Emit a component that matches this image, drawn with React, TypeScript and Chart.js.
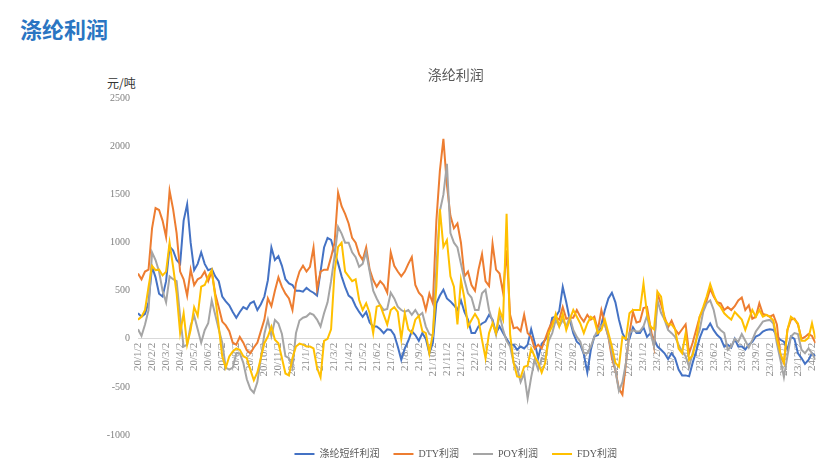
import React, { useEffect, useRef } from 'react';
import { Chart, registerables } from 'chart.js';

Chart.register(...registerables);

// x-axis tick labels (one per month)
const monthLabels = [
  '20/1/2', '20/2/2', '20/3/2', '20/4/2', '20/5/2', '20/6/2', '20/7/2', '20/8/2', '20/9/2', '20/10/2', '20/11/2', '20/12/2',
  '21/1/2', '21/2/2', '21/3/2', '21/4/2', '21/5/2', '21/6/2', '21/7/2', '21/8/2', '21/9/2', '21/10/2', '21/11/2', '21/12/2',
  '22/1/2', '22/2/2', '22/3/2', '22/4/2', '22/5/2', '22/6/2', '22/7/2', '22/8/2', '22/9/2', '22/10/2', '22/11/2', '22/12/2',
  '23/1/2', '23/2/2', '23/3/2', '23/4/2', '23/5/2', '23/6/2', '23/7/2', '23/8/2', '23/9/2', '23/10/2', '23/11/2', '23/12/2',
  '24/1/2',
];

// samples are read every quarter month, starting 20/1/2
const sampleStepMonths = 0.25;

const seriesNames = ['涤纶短纤利润', 'DTY利润', 'POY利润', 'FDY利润'];
const seriesColors = ['#4472C4', '#ED7D31', '#A5A5A5', '#FFC000'];

// 涤纶短纤利润 (元/吨)
const psfProfit = [
  266, 230, 260, 380, 750, 640, 470, 440, 600, 960,
  920, 820, 780, 1230, 1400, 1000, 715, 780, 900, 780,
  715, 730, 650, 600, 440, 390, 350, 280, 220, 280,
  330, 310, 370, 390, 300, 360, 440, 610, 950, 820,
  860, 760, 620, 577, 560, 500, 500, 490, 530, 500,
  480, 450, 700, 950, 1050, 1030, 900, 785, 650, 540,
  450, 420, 340, 280, 230, 280, 170, 128, 128, 100,
  59, 100, 93, 40, -80, -218, -100, -20, 80, 40,
  -20, 60, 0, -150, -40, 370, 450, 510, 420, 390,
  350, 300, 400, 280, 200, 60, 60, 130, 160, 180,
  250, 200, 59, 130, 60, 0, -60, -60, -114, -80,
  -100, -60, 100, -40, -200, -50, -10, 50, 220, 230,
  290, 540, 380, 200, 60, -30, -60, -160, -350, -114,
  24, 40, 150, 300, 420, 480, 380, 200, 60, -10,
  0, 120, 60, 60, 120, 20, 60, 0, -80, -114,
  -150, -210, -150, -200, -320, -380, -380, -390, -250, -130,
  7, 100, 100, 160, 90, 40, 5, -80, -60, -90,
  0, -80, -80, -110, -60, -30, 24, 40, 76, 93,
  100, 93, 30, -10, -30, -110, 24, 0, -150, -200,
  -260, -220, -150, -180,
];

// DTY利润
const dtyProfit = [
  680, 620, 700, 720, 1150, 1360, 1340, 1230, 1060, 1540,
  1350, 1100, 700, 620, 450, 720, 560, 620, 640, 700,
  600, 700, 470, 330, 180, 140, 80, -40, -60, 20,
  -40, -120, -150, -90, -40, 80, 200, 420, 340, 500,
  640, 540, 470, 420, 300, 580, 700, 760, 700, 750,
  950, 520, 700, 720, 720, 850, 1000, 1520, 1380, 1300,
  1200, 1050, 1000, 880, 820, 950, 720, 612, 543, 600,
  560, 480, 900, 760, 700, 650, 700, 780, 850, 560,
  480, 440, 300, 470, 370, 1230, 1750, 2080, 1600, 1280,
  1150, 1200, 1000, 650, 700, 560, 500, 720, 880, 600,
  550, 990, 720, 680, 480, 920, 250, 110, 120, 80,
  250, 60, 20, -100, -60, -100, 0, 100, 180, 220,
  200, 330, 210, 220, 220, 300, 230, 180, 250, 200,
  230, 93, 300, 150, 20, -200, -330, -520, -580, -250,
  60, 280, 170, 180, 320, 330, 120, -80, 470, 360,
  230, 120, 190, 100, 50, 100, 150, -150, -40, 93,
  230, 300, 400, 520, 440, 380, 370, 300, 330, 300,
  340, 400, 430, 300, 350, 210, 230, 370, 260, 250,
  230, 250, 150, -180, -250, 93, 200, 210, 150, 0,
  20, 50, 30, -45,
];

// POY利润
const poyProfit = [
  100, 30, 150, 300, 900, 820, 700, 500, 380, 650,
  620, 600, 232, -80, -60, 140, 240, 100, -40, 90,
  162, 400, 250, 100, -40, -300, -320, -300, -150, -150,
  -250, -420, -520, -560, -450, -200, 50, 200, 30, 197,
  160, 50, -180, -200, -300, 60, 190, 220, 232, 266,
  250, 200, 128, 266, 380, 600, 860, 1165, 1095, 1000,
  1000, 900, 850, 750, 780, 900, 700, 500, 420, 350,
  300, 310, 480, 420, 335, 300, 280, 300, 250, 300,
  240, 270, 128, 50, 30, 750, 1330, 1500, 1820, 1100,
  1000, 950, 780, 612, 474, 430, 300, 300, 474, 510,
  300, 180, 40, 250, 93, -20, -80, -250, -300, -450,
  -360, -620, -400, -218, -320, -200, -218, -20, 60, 197,
  130, 197, 130, 230, 93, 20, -30, -150, -150, -80,
  24, 93, 140, 150, 24, -150, -330, -540, -450, -250,
  60, 90, 76, 80, 130, 240, 60, -80, 400, 270,
  200, 93, 59, 20, -60, -130, -180, -290, -150, -10,
  93, 280, 370, 400, 300, 130, 90, 60, -114, -80,
  0, -30, 50, -20, -90, -10, 76, 128, 180, 190,
  197, 160, -50, -218, -400, -180, 24, 60, 50, -114,
  -150, -100, -150, -218,
];

// FDY利润
const fdyProfit = [
  200, 230, 300, 540, 760, 715, 720, 660, 700, 1000,
  750, 474, 59, 266, -60, 93, 330, 240, 543, 560,
  646, 715, 440, 130, -183, -300, -183, -130, -100, -114,
  -180, -200, -320, -430, -350, -200, -45, 24, 128, -10,
  -45, -200, -360, -380, -200, -80, -50, -60, -80, -80,
  -100, -300, -400, -20, 0, 100, 700, 957, 1000, 700,
  650, 600, 620, 404, 300, 370, 266, 59, 335, 350,
  250, 150, 300, 330, 280, 0, 266, 100, 60, 200,
  240, 80, 60, -150, 59, 543, 1350, 957, 1027, 650,
  543, 150, 612, 420, 128, 197, 260, 200, -10, -200,
  60, 162, 60, 300, 200, 1300, 50, -250, -390, -400,
  -290, -280, -100, -183, -250, -350, -250, 60, 130, 260,
  130, 260, 93, 200, 300, 230, 160, 60, 160, 230,
  200, 60, 93, 200, 60, -80, -250, -290, 20, 0,
  266, 300, 300, 300, 577, 260, 128, 100, 490, 440,
  200, 150, 150, 100, -100, -150, 59, -218, -170, -20,
  230, 330, 440, 570, 460, 370, 330, 266, 230, 200,
  280, 240, 200, 93, 200, 300, 230, 300, 230, 250,
  230, 190, 0, -150, -250, 93, 230, 200, 160, -20,
  -20, 10, 162, 0,
];

const yTickMin = -1000;
const yTickMax = 2500;
const yTickStep = 500;

const SERIF = '"Liberation Serif", "Noto Sans CJK SC", serif';
const CJK = '"Noto Sans CJK SC", sans-serif';

export default function App() {
  const canvasRef = useRef<HTMLCanvasElement | null>(null);

  useEffect(() => {
    const canvas = canvasRef.current;
    if (!canvas) return;
    const allSeries = [psfProfit, dtyProfit, poyProfit, fdyProfit];
    const toPoints = (arr: number[]) => arr.map((v, i) => ({ x: i * sampleStepMonths, y: v }));
    const lastX = (psfProfit.length - 1) * sampleStepMonths;

    const chart = new Chart(canvas, {
      type: 'line',
      data: {
        datasets: allSeries.map((arr, i) => ({
          label: seriesNames[i],
          data: toPoints(arr),
          borderColor: seriesColors[i],
          backgroundColor: seriesColors[i],
          borderWidth: 2,
          pointRadius: 0,
          tension: 0,
          order: allSeries.length - 1 - i,
        })),
      },
      options: {
        responsive: false,
        animation: false,
        events: [],
        layout: { padding: { left: 0, right: 17.5, top: 0, bottom: 0 } },
        plugins: {
          title: {
            display: true,
            text: '涤纶利润',
            color: '#595959',
            font: { family: CJK, size: 14, weight: 'normal' },
            padding: { top: 66, bottom: 15.7 },
          },
          legend: {
            position: 'bottom',
            maxHeight: 26,
            labels: {
              boxWidth: 20,
              boxHeight: 2,
              padding: 14,
              color: '#595959',
              font: { family: SERIF, size: 10 },
              sort: (a: any, b: any) => a.datasetIndex - b.datasetIndex,
              generateLabels: (c: any) =>
                (Chart.defaults.plugins.legend.labels.generateLabels as any)(c).map((l: any) => ({
                  ...l,
                  lineWidth: 0,
                  fillStyle: l.strokeStyle,
                })),
            },
          },
          tooltip: { enabled: false },
        },
        scales: {
          x: {
            type: 'linear',
            min: 0,
            max: lastX,
            position: { y: 0 } as any,
            grid: { display: false, drawTicks: false },
            border: { display: false },
            ticks: {
              stepSize: 1,
              autoSkip: false,
              includeBounds: false,
              minRotation: 90,
              maxRotation: 90,
              padding: 4,
              color: '#8c8c8c',
              font: { family: SERIF, size: 11 },
              callback: (v: any) => {
                const idx = Math.round(Number(v));
                return Math.abs(idx - Number(v)) < 1e-6 && monthLabels[idx] ? monthLabels[idx] : '';
              },
            },
            afterFit: (s: any) => {
              s.height = 0;
            },
          },
          y: {
            min: yTickMin,
            max: yTickMax,
            border: { display: false },
            grid: {
              drawTicks: false,
              lineWidth: 1,
              color: (ctx: any) => (ctx.tick && ctx.tick.value === 0 ? '#d9d9d9' : 'rgba(0,0,0,0)'),
            },
            ticks: {
              stepSize: yTickStep,
              padding: 8,
              color: '#808080',
              font: { family: SERIF, size: 10 },
              callback: (v: any) => String(v),
            },
            afterFit: (s: any) => {
              s.width = 42;
            },
          },
        },
      } as any,
    });
    return () => chart.destroy();
  }, []);

  return (
    <div style={{ position: 'absolute', left: 0, top: 0, width: 833, height: 461, background: '#ffffff', overflow: 'hidden' }}>
      <div
        style={{
          position: 'absolute',
          left: 20,
          top: 16,
          fontFamily: CJK,
          fontWeight: 'bold',
          fontSize: 22,
          lineHeight: '24px',
          color: '#2A75C2',
          whiteSpace: 'nowrap',
        }}
      >
        涤纶利润
      </div>
      <div
        style={{
          position: 'absolute',
          left: 107,
          top: 76,
          fontFamily: CJK,
          fontSize: 12,
          lineHeight: '14px',
          color: '#333333',
          whiteSpace: 'nowrap',
        }}
      >
        元/吨
      </div>
      <canvas
        ref={canvasRef}
        width={737}
        height={461}
        style={{ position: 'absolute', left: 96, top: 0, width: 737, height: 461 }}
      />
    </div>
  );
}
